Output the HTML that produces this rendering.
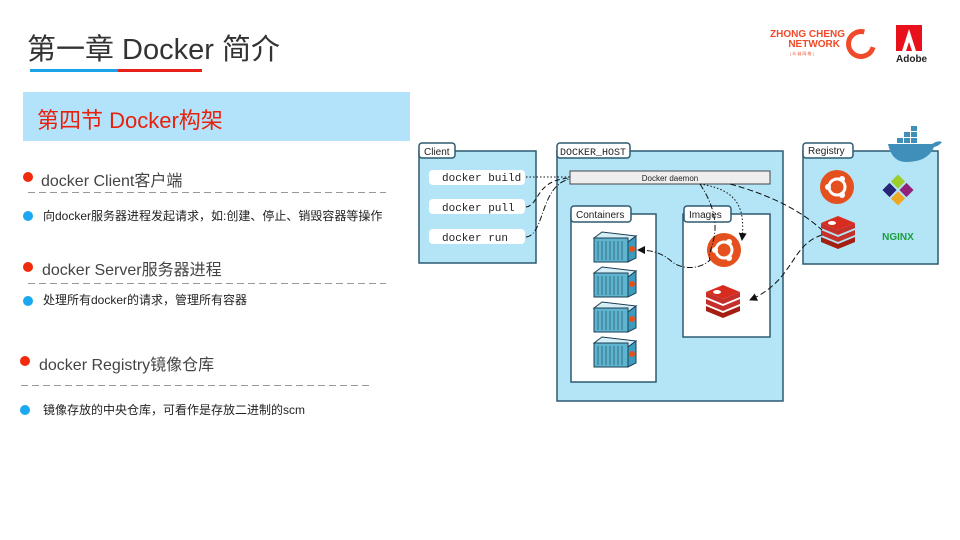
<!DOCTYPE html>
<html><head><meta charset="utf-8"><style>
body{margin:0;width:960px;height:540px;background:#fff;position:relative;overflow:hidden;font-family:"Liberation Sans","Noto Sans CJK SC",sans-serif;}
.a{position:absolute;white-space:nowrap;}
.dot{position:absolute;width:10px;height:10px;border-radius:50%;}
.dash{position:absolute;height:1px;background:repeating-linear-gradient(90deg,#999 0 7px,transparent 7px 11px);}
</style></head><body>
<div class="a" style="left:27px;top:26px;font-size:29px;color:#333;">第一章 Docker 简介</div>
<div class="a" style="left:30px;top:69px;width:88px;height:3px;background:#1aa3e8"></div>
<div class="a" style="left:118px;top:69px;width:84px;height:3px;background:#e8201a"></div>
<div class="a" style="left:770px;top:30px;font-size:10px;font-weight:bold;color:#f04a2a;line-height:10px;text-align:right;width:70px;">ZHONG CHENG<br>NETWORK</div>
<div class="a" style="left:790px;top:51px;font-size:4px;color:#f04a2a;">| 众 诚 网 络 |</div>
<div class="a" style="left:846px;top:29px;width:20px;height:20px;border:5px solid #f04a2a;border-radius:50%;border-right-color:transparent;transform:rotate(-30deg)"></div>
<svg class="a" style="left:896px;top:25px" width="34" height="40"><rect x="0" y="0" width="26" height="26" fill="#e8101a"/><polygon points="13,4 20,26 16,26 13,17 10,26 6,26" fill="#fff"/><text x="0" y="37" font-size="10" font-weight="bold" fill="#222" font-family="Liberation Sans">Adobe</text></svg>

<div class="a" style="left:23px;top:92px;width:387px;height:49px;background:#b3e3fb"></div>
<div class="a" style="left:37px;top:103px;font-size:22px;color:#e8200e;">第四节 Docker构架</div>

<div class="dot" style="left:23px;top:172px;background:#f02a0a"></div>
<div class="a" style="left:41px;top:167px;font-size:16px;color:#444;">docker Client客户端</div>
<div class="dash" style="left:28px;top:192px;width:358px;"></div>
<div class="dot" style="left:23px;top:211px;background:#1aa8f0"></div>
<div class="a" style="left:43px;top:207px;font-size:12px;color:#222;">向docker服务器进程发起请求，如:创建、停止、销毁容器等操作</div>

<div class="dot" style="left:23px;top:262px;background:#f02a0a"></div>
<div class="a" style="left:42px;top:256px;font-size:16px;color:#444;">docker Server服务器进程</div>
<div class="dash" style="left:28px;top:283px;width:358px;"></div>
<div class="dot" style="left:23px;top:296px;background:#1aa8f0"></div>
<div class="a" style="left:43px;top:291px;font-size:12px;color:#222;">处理所有docker的请求，管理所有容器</div>

<div class="dot" style="left:20px;top:356px;background:#f02a0a"></div>
<div class="a" style="left:39px;top:351px;font-size:16px;color:#444;">docker Registry镜像仓库</div>
<div class="dash" style="left:21px;top:385px;width:350px;"></div>
<div class="dot" style="left:20px;top:405px;background:#1aa8f0"></div>
<div class="a" style="left:43px;top:401px;font-size:12px;color:#222;">镜像存放的中央仓库，可看作是存放二进制的scm</div>

<svg class="a" style="left:0;top:0" width="960" height="540" font-family="Liberation Sans">
<defs><marker id="ar" markerWidth="8" markerHeight="8" refX="7" refY="4" orient="auto"><path d="M0,0L8,4L0,8z" fill="#111"/></marker>
<g id="ctr"><polygon points="0,6 8,0 42,4 34,10" fill="#d6eef5" stroke="#1b3f55" stroke-width="1"/><rect x="0" y="6" width="34" height="24" fill="#5fb4cf" stroke="#1b3f55"/><polygon points="34,10 42,4 42,26 34,30" fill="#3b9cbf" stroke="#1b3f55"/><circle cx="38" cy="17" r="3" fill="#e8501a"/><g stroke="#1b3f55" stroke-width="0.6"><line x1="4" y1="9" x2="4" y2="28"/><line x1="8" y1="9" x2="8" y2="28"/><line x1="12" y1="9" x2="12" y2="28"/><line x1="16" y1="9" x2="16" y2="28"/><line x1="20" y1="9" x2="20" y2="28"/><line x1="24" y1="9" x2="24" y2="28"/><line x1="28" y1="9" x2="28" y2="28"/></g></g>
<g id="ub"><circle r="17" fill="#e4501e"/><circle r="8" fill="none" stroke="#fff" stroke-width="3"/><circle cx="-9" cy="0" r="3" fill="#fff"/><circle cx="5" cy="-8" r="3" fill="#fff"/><circle cx="5" cy="8" r="3" fill="#fff"/></g>
<g id="rd"><path d="M-17,4 L0,11 L17,4 L17,9 L0,16 L-17,9z" fill="#a41e11"/><path d="M-17,-3 L0,4 L17,-3 L17,2 L0,9 L-17,2z" fill="#c6302b"/><path d="M-17,-10 L0,-3 L17,-10 L17,-5 L0,2 L-17,-5z" fill="#c6302b"/><polygon points="-17,-10 0,-17 17,-10 0,-3" fill="#d82c20"/><ellipse cx="-6" cy="-10" rx="4" ry="2" fill="#fff"/></g>
</defs>
<g stroke="#2d5a70" stroke-width="1.5">
<rect x="419" y="151" width="117" height="112" fill="#b3e5f7"/>
<rect x="557" y="151" width="226" height="250" fill="#b3e5f7"/>
<rect x="803" y="151" width="135" height="113" fill="#b3e5f7"/>
<rect x="419" y="143" width="36" height="15" rx="3" fill="#fff"/>
<rect x="557" y="143" width="73" height="15" rx="3" fill="#fff"/>
<rect x="803" y="143" width="50" height="15" rx="3" fill="#fff"/>
<rect x="571" y="214" width="85" height="168" fill="#fff"/>
<rect x="683" y="214" width="87" height="123" fill="#fff"/>
<rect x="571" y="206" width="60" height="16" rx="3" fill="#fff"/>
<rect x="684" y="206" width="47" height="16" rx="3" fill="#fff"/>
</g>
<rect x="570" y="171" width="200" height="13" fill="#eee" stroke="#444"/>
<text x="670" y="181" font-size="8" text-anchor="middle" fill="#222">Docker daemon</text>
<text x="424" y="155" font-size="10" fill="#222">Client</text>
<text x="560" y="155" font-size="10" fill="#222" font-family="Liberation Mono">DOCKER_HOST</text>
<text x="808" y="154" font-size="10" fill="#222">Registry</text>
<text x="576" y="218" font-size="10" fill="#222">Containers</text>
<text x="689" y="218" font-size="10" fill="#222">Images</text>
<g font-family="Liberation Mono" font-size="11" fill="#222">
<rect x="429" y="170" width="96" height="15" rx="4" fill="#fff"/><text x="442" y="181">docker build</text>
<rect x="429" y="199" width="96" height="15" rx="4" fill="#fff"/><text x="442" y="211">docker pull</text>
<rect x="429" y="229" width="96" height="15" rx="4" fill="#fff"/><text x="442" y="241">docker run</text>
</g>
<use href="#ctr" x="594" y="232"/><use href="#ctr" x="594" y="267"/><use href="#ctr" x="594" y="302"/><use href="#ctr" x="594" y="337"/>
<use href="#ub" x="724" y="250"/><use href="#rd" x="723" y="302"/>
<use href="#ub" x="837" y="187"/><use href="#rd" x="838" y="233"/>
<g transform="translate(898,190) rotate(45)"><rect x="-11" y="-11" width="10" height="10" fill="#9ccd2a"/><rect x="1" y="-11" width="10" height="10" fill="#932279"/><rect x="-11" y="1" width="10" height="10" fill="#262577"/><rect x="1" y="1" width="10" height="10" fill="#efa724"/></g>
<text x="898" y="240" font-size="10" font-weight="bold" fill="#1a9e3a" text-anchor="middle">NGINX</text>
<g fill="#3f8fba">
<path d="M888,144 h44 q6,-4 10,-2 q-3,4 -8,5 q-6,15 -28,15 q-14,0 -18,-18z"/>
<rect x="897" y="138" width="6" height="5"/><rect x="904" y="138" width="6" height="5"/><rect x="911" y="138" width="6" height="5"/><rect x="904" y="132" width="6" height="5"/><rect x="911" y="132" width="6" height="5"/><rect x="911" y="126" width="6" height="5"/>
</g>
<g fill="none" stroke="#111" stroke-width="1">
<path d="M526,177 L570,177" stroke-dasharray="1.5,2"/>
<path d="M526,207 C540,205 535,180 570,178" stroke-dasharray="5,3"/>
<path d="M526,237 C545,235 540,185 570,179" stroke-dasharray="6,2,1,2"/>
<path d="M700,184 C730,230 705,250 710,260 C700,270 680,270 670,260 C660,252 650,250 638,250" stroke-dasharray="6,2,1,2" marker-end="url(#ar)"/>
<path d="M700,184 C740,190 745,210 742,240" stroke-dasharray="1.5,2" marker-end="url(#ar)"/>
<path d="M730,184 C770,195 800,210 822,230" stroke-dasharray="6,3"/>
<path d="M822,235 C790,245 795,280 750,300" stroke-dasharray="6,3" marker-end="url(#ar)"/>
</g>
</svg>
</body></html>
